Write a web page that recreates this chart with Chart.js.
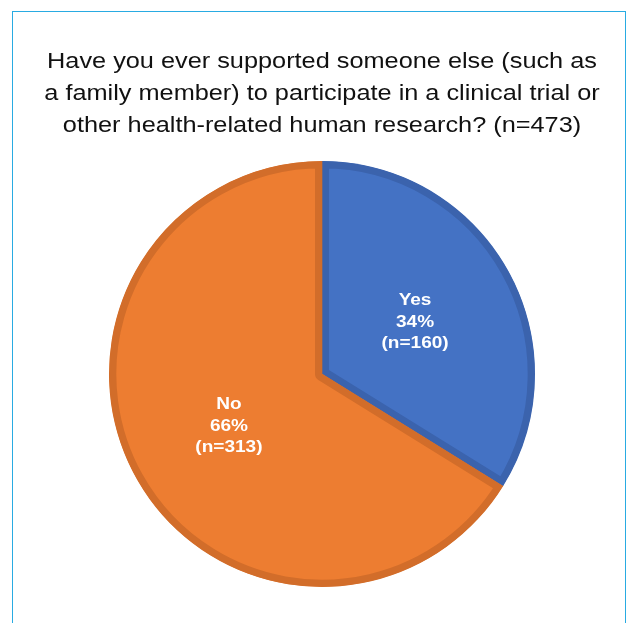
<!DOCTYPE html>
<html>
<head>
<meta charset="utf-8">
<title>Supporting others in clinical research</title>
<script src="https://cdn.jsdelivr.net/npm/chart.js@4.4.1/dist/chart.umd.min.js"></script>
<style>
  html, body { margin: 0; padding: 0; background: #ffffff; overflow: hidden; }
  #frame {
    position: absolute; left: 12px; top: 11px; width: 614px; height: 700px;
    box-sizing: border-box; border: 1px solid #29abe2; border-bottom: none;
  }
  #chart { position: absolute; left: 0; top: 0; }
</style>
</head>
<body>
<div id="frame"></div>
<canvas id="chart" width="632" height="623"></canvas>
<script>
// Survey question and answers
const titleLines = [
  'Have you ever supported someone else (such as',
  'a family member) to participate in a clinical trial or',
  'other health-related human research? (n=473)'
];
const categories = ['Yes', 'No'];
const counts = [160, 313];
const fillColors = ['#4472c4', '#ed7d31'];
const edgeColors = ['#3b63ad', '#d26d2a'];

const FONT = '"Liberation Sans", Arial, sans-serif';

// Draws one line of text centred on (x, y), widened horizontally by sx
function wideText(ctx, text, x, y, sx) {
  ctx.save();
  ctx.translate(x, y);
  ctx.scale(sx, 1);
  ctx.fillText(text, 0, 0);
  ctx.restore();
}

// Question text above the pie, in a slightly widened face
const questionTitle = {
  id: 'questionTitle',
  afterDraw(chart) {
    const ctx = chart.ctx;
    ctx.save();
    ctx.fillStyle = '#111111';
    ctx.font = '22px ' + FONT;
    ctx.textAlign = 'center';
    ctx.textBaseline = 'middle';
    const cx = (chart.chartArea.left + chart.chartArea.right) / 2;
    titleLines.forEach((t, k) => wideText(ctx, t, cx, 62 + k * 32, 1.15));
    ctx.restore();
  }
};

// Writes "Answer / pct% / (n=count)" in white at the middle of each slice
const sliceLabels = {
  id: 'sliceLabels',
  afterDatasetsDraw(chart) {
    const ctx = chart.ctx;
    const meta = chart.getDatasetMeta(0);
    const data = chart.data.datasets[0].data;
    const total = data.reduce((a, b) => a + b, 0);
    ctx.save();
    ctx.fillStyle = '#ffffff';
    ctx.font = 'bold 17px ' + FONT;
    ctx.textAlign = 'center';
    ctx.textBaseline = 'middle';
    meta.data.forEach((arc, i) => {
      const p = arc.getCenterPoint();
      const lines = [
        chart.data.labels[i],
        Math.round(data[i] / total * 100) + '%',
        '(n=' + data[i] + ')'
      ];
      const lh = 21.5;
      lines.forEach((t, k) => {
        wideText(ctx, t, p.x, p.y + (k - (lines.length - 1) / 2) * lh, 1.12);
      });
    });
    ctx.restore();
  }
};

new Chart(document.getElementById('chart'), {
  type: 'pie',
  data: {
    labels: categories,
    datasets: [{
      data: counts,
      backgroundColor: fillColors,
      borderColor: edgeColors,
      borderWidth: 7,
      borderAlign: 'inner'
    }]
  },
  options: {
    responsive: false,
    animation: false,
    radius: 213,
    layout: { padding: { left: 12, right: 0, top: 149.5, bottom: 24.5 } },
    plugins: {
      legend: { display: false },
      tooltip: { enabled: false },
      title: { display: false }
    }
  },
  plugins: [sliceLabels, questionTitle]
});
</script>
</body>
</html>
